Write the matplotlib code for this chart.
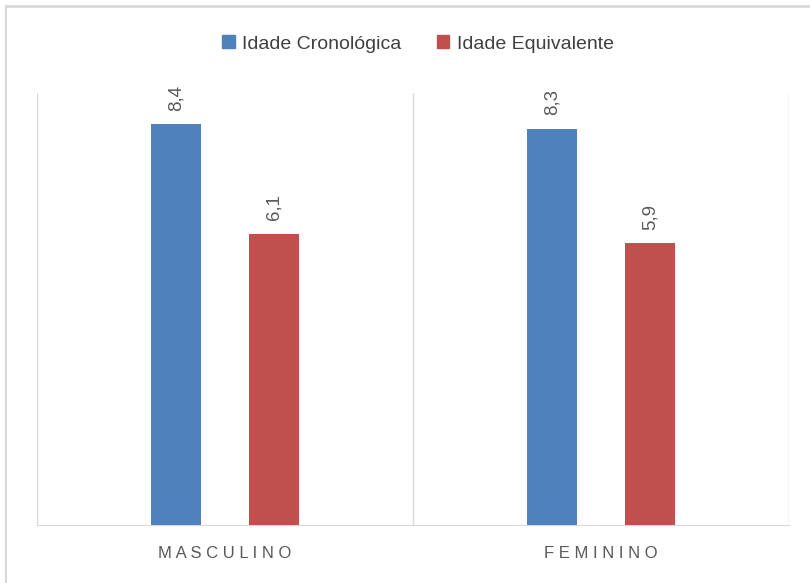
import matplotlib.pyplot as plt
import numpy as np
from matplotlib.patches import Rectangle
from matplotlib.lines import Line2D

plt.rcParams['font.family'] = ['Liberation Sans', 'DejaVu Sans']

categories = ['MASCULINO', 'FEMININO']
series_names = ['Idade Cronológica', 'Idade Equivalente']
cronologica = [8.4, 8.3]
equivalente = [6.1, 5.9]
colors = ['#4f81bd', '#c0504d']
text_gray = '#595959'

fig = plt.figure(figsize=(8.10, 5.83), dpi=100)
ax = fig.add_axes([37 / 810, 1 - 525 / 583, (789 - 37) / 810, (525 - 93) / 583])

x = np.arange(len(categories))
w = 0.133
offset = 0.13
for vals, col, sgn in [(cronologica, colors[0], -1), (equivalente, colors[1], 1)]:
    bars = ax.bar(x + sgn * offset, vals, width=w, color=col, zorder=3)
    for b, v in zip(bars, vals):
        ax.text(b.get_x() + b.get_width() / 2, v + 0.28, f'{v:.1f}'.replace('.', ','),
                rotation=90, ha='center', va='bottom', color=text_gray, fontsize=13.5)

ax.set_xlim(-0.5, 1.5)
ax.set_ylim(0, 9.05)
ax.set_yticks([])
ax.set_xticks(x)
ax.set_xticklabels([' '.join(c) for c in categories], color=text_gray, fontsize=12)
ax.tick_params(axis='x', length=0, pad=15)
for gx in [-0.5, 0.5, 1.5]:
    ax.axvline(gx, color='#d9d9d9', lw=1, zorder=1)
for s in ['top', 'right', 'left']:
    ax.spines[s].set_visible(False)
ax.spines['bottom'].set_color('#d9d9d9')

handles = [Rectangle((0, 0), 1, 1, color=c) for c in colors]
fig.legend(handles, series_names, loc='center', bbox_to_anchor=(418 / 810, 1 - 44 / 583),
           ncol=2, frameon=False, fontsize=14, handlelength=0.65, handleheight=0.65,
           handletextpad=0.4, columnspacing=1.8, labelcolor='#404040')

# outer chart border
fig.add_artist(Line2D([6 / 810, 1], [1 - 6 / 583] * 2, color='#d9d9d9', lw=2))
fig.add_artist(Line2D([6 / 810] * 2, [0, 1 - 6 / 583], color='#d9d9d9', lw=1.5))

fig.savefig('out.png', dpi=100)
